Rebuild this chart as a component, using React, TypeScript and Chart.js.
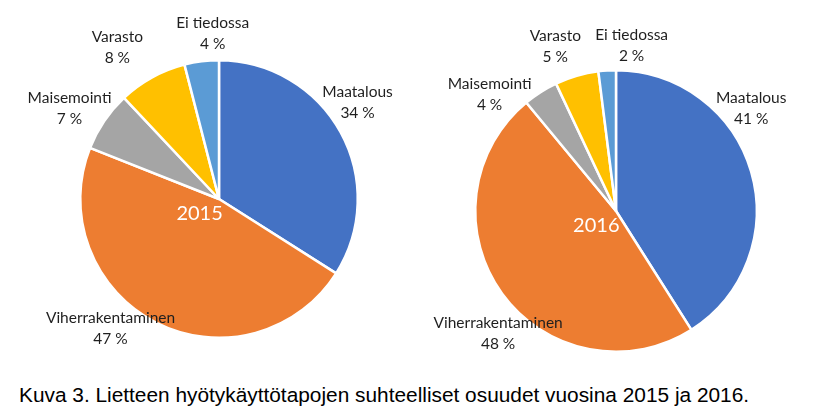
import React, { useEffect, useRef } from "react";
import { Chart, registerables } from "chart.js";

Chart.register(...registerables);

const categories = ["Maatalous", "Viherrakentaminen", "Maisemointi", "Varasto", "Ei tiedossa"];
const values2015 = [34, 47, 7, 8, 4];
const values2016 = [41, 48, 4, 5, 2];
const years = ["2015", "2016"];
const sliceColors = ["#4472C4", "#ED7D31", "#A5A5A5", "#FFC000", "#5B9BD5"];
const caption = "Kuva 3. Lietteen hyötykäyttötapojen suhteelliset osuudet vuosina 2015 ja 2016.";

// label placement (style): angular shift from slice mid-angle (deg), and distance beyond the rim (px)
const labelShift2015 = [-6, 13, -3, -5, 5];
const labelGap2015 = [30, 30, 36, 44, 27];
const labelShift2016 = [-21, -10, -15, -4, 9];
const labelGap2016 = [29, 29, 31, 35, 25];

const LABEL_FONT = "15.5px Lato";

const sliceLabelPlugin = {
  id: "sliceLabels",
  afterDatasetsDraw(chart: any, _args: any, opts: any) {
    const ctx = chart.ctx;
    const meta = chart.getDatasetMeta(0);
    const ds = chart.data.datasets[0];
    ctx.save();
    ctx.textAlign = "center";
    ctx.textBaseline = "middle";
    ctx.font = LABEL_FONT;
    ctx.fillStyle = "#1f1f1f";
    let cx = 0, cy = 0, r = 0;
    meta.data.forEach((arc: any, i: number) => {
      const p = arc.getProps(["x", "y", "startAngle", "endAngle", "outerRadius"], true);
      cx = p.x; cy = p.y; r = p.outerRadius;
      const mid = (p.startAngle + p.endAngle) / 2 + (opts.shift[i] * Math.PI) / 180;
      const d = p.outerRadius + opts.gap[i];
      const lx = p.x + Math.cos(mid) * d;
      const ly = p.y + Math.sin(mid) * d;
      ctx.fillText(String(chart.data.labels[i]), lx, ly - 10.5);
      ctx.fillText(ds.data[i] + " %", lx, ly + 10.5);
    });
    ctx.font = "20px Lato";
    ctx.fillStyle = "#ffffff";
    ctx.fillText(opts.year, cx - 0.14 * r, cy + 0.105 * r);
    ctx.restore();
  },
};

function PieChart(props: {
  values: number[];
  year: string;
  shift: number[];
  gap: number[];
  padding: { left: number; right: number; top: number; bottom: number };
  width: number;
  height: number;
  style: React.CSSProperties;
}) {
  const ref = useRef<HTMLCanvasElement | null>(null);
  useEffect(() => {
    if (!ref.current) return;
    const chart = new Chart(ref.current, {
      type: "pie",
      data: {
        labels: categories,
        datasets: [
          {
            data: props.values,
            backgroundColor: sliceColors,
            borderColor: "#ffffff",
            borderWidth: 2.5,
          },
        ],
      },
      options: {
        responsive: false,
        animation: false,
        layout: { padding: props.padding },
        plugins: {
          legend: { display: false },
          tooltip: { enabled: false },
          sliceLabels: { shift: props.shift, gap: props.gap, year: props.year },
        } as any,
      },
      plugins: [sliceLabelPlugin],
    });
    return () => chart.destroy();
  }, []);
  return <canvas ref={ref} width={props.width} height={props.height} style={props.style} />;
}

export default function App() {
  return (
    <div
      style={{
        position: "fixed",
        left: 0,
        top: 0,
        width: 833,
        height: 415,
        background: "#ffffff",
        overflow: "hidden",
      }}
    >
      <PieChart
        values={values2015}
        year={years[0]}
        shift={labelShift2015}
        gap={labelGap2015}
        padding={{ left: 79, right: 57, top: 59, bottom: 31 }}
        width={416}
        height={370}
        style={{ position: "absolute", left: 0, top: 0 }}
      />
      <PieChart
        values={values2016}
        year={years[1]}
        shift={labelShift2016}
        gap={labelGap2016}
        padding={{ left: 58, right: 75, top: 69, bottom: 17 }}
        width={417}
        height={370}
        style={{ position: "absolute", left: 416, top: 0 }}
      />
      <div
        style={{
          position: "absolute",
          left: 19,
          top: 383,
          fontFamily: "'Liberation Sans', Arial, sans-serif",
          fontSize: 20.85,
          lineHeight: "24px",
          color: "#000000",
          whiteSpace: "nowrap",
        }}
      >
        {caption}
      </div>
    </div>
  );
}
